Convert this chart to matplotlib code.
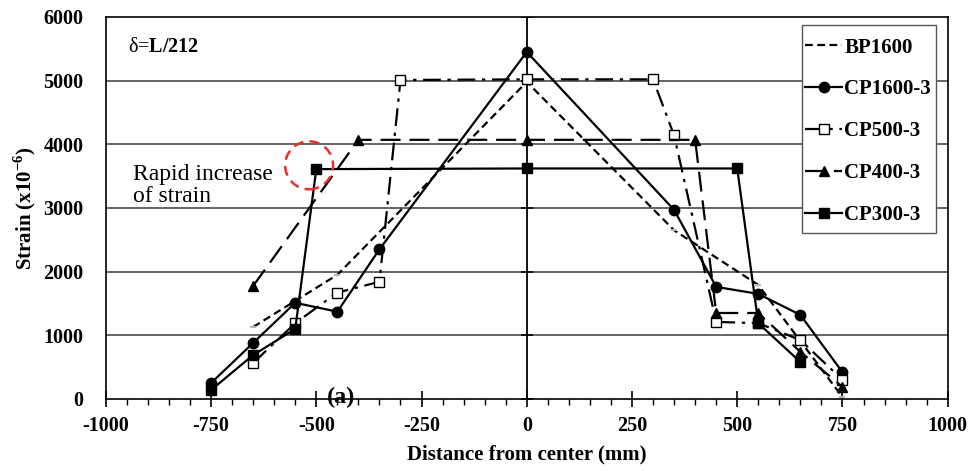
import matplotlib
matplotlib.use("Agg")
import matplotlib.pyplot as plt
from matplotlib.patches import Ellipse, Rectangle
import numpy as np

plt.rcParams['font.family'] = ['Liberation Serif', 'DejaVu Serif']
plt.rcParams['mathtext.fontset'] = 'custom'
plt.rcParams['mathtext.rm'] = 'Liberation Serif'
plt.rcParams['mathtext.bf'] = 'Liberation Serif:bold'
plt.rcParams['axes.unicode_minus'] = False

# ---- data ----
bp1600_x = [-650, -450, 0, 350, 550, 750]
bp1600_y = [1130, 1950, 4980, 2650, 1790, 30]

cp1600_x = [-750, -650, -550, -450, -350, 0, 350, 450, 550, 650, 750]
cp1600_y = [250, 880, 1510, 1370, 2350, 5450, 2970, 1760, 1650, 1320, 420]

cp500_x = [-650, -550, -450, -350, -300, 0, 300, 350, 450, 550, 650, 750]
cp500_y = [565, 1190, 1670, 1840, 5010, 5020, 5020, 4140, 1210, 1190, 925, 300]

cp400_x = [-650, -400, 0, 400, 450, 550, 650, 750]
cp400_y = [1775, 4070, 4070, 4070, 1350, 1350, 740, 190]

cp300_x = [-750, -650, -550, -500, 0, 500, 550, 650]
cp300_y = [140, 690, 1100, 3610, 3620, 3620, 1190, 580]

labels = ['BP1600', 'CP1600-3', 'CP500-3', 'CP400-3', 'CP300-3']

x_ticks = [-1000, -750, -500, -250, 0, 250, 500, 750, 1000]
y_ticks = [0, 1000, 2000, 3000, 4000, 5000, 6000]

fig = plt.figure(figsize=(9.71, 4.71), dpi=100)
ax = fig.add_axes([0.109, 0.153, 0.867, 0.811])

ax.set_xlim(-1000, 1000)
ax.set_ylim(0, 6000)

for yv in y_ticks[1:-1]:
    ax.axhline(yv, color='#3a3a3a', lw=1.1, zorder=1)
ax.axvline(0, color='black', lw=1.3, zorder=1)
ax.plot([0] * len(y_ticks), y_ticks, ls='none', marker='_', ms=8, mew=1.2, color='black', zorder=1)

lw = 1.6
ax.plot(bp1600_x, bp1600_y, color='black', lw=lw, dashes=(3.5, 2), marker='_', ms=5,
        mec='#b5b5b5', mew=1.5, label=labels[0], zorder=3)
ax.plot(cp1600_x, cp1600_y, color='black', lw=lw, ls='-', marker='o', ms=7.5,
        label=labels[1], zorder=4)
ax.plot(cp500_x, cp500_y, color='black', lw=lw, dashes=(8, 3, 1.5, 3), marker='s', ms=7,
        mfc='white', mew=1.0, label=labels[2], zorder=4)
ax.plot(cp400_x, cp400_y, color='black', lw=lw, dashes=(9, 4), marker='^', ms=7.5,
        label=labels[3], zorder=4)
ax.plot(cp300_x, cp300_y, color='black', lw=lw, ls='-', marker='s', ms=7.5,
        label=labels[4], zorder=4)

# red circle annotation
circ = Ellipse((-517, 3670), width=114, height=754, fill=False, edgecolor='#e8302a',
               lw=1.8, ls=(0, (4, 2.5)), zorder=5)
ax.add_patch(circ)

ax.text(-935, 3350, 'Rapid increase\nof strain', fontsize=17, ha='left', va='center',
        linespacing=1.1)
ax.text(-948, 5520, r'δ=$\mathbf{L/212}$', fontsize=14.5, ha='left', va='center')
ax.text(-440, 30, '(a)', fontsize=17.5, fontweight='bold', ha='center', va='center', zorder=6)

ax.set_xticks(x_ticks)
ax.set_yticks(y_ticks)
ax.set_xticks(np.arange(-1000, 1001, 50), minor=True)
ax.tick_params(axis='x', which='major', direction='inout', length=11, width=1.2, pad=7,
               labelsize=14.5)
ax.tick_params(axis='x', which='minor', direction='out', length=4, width=1.0)
ax.tick_params(axis='y', which='major', length=0, pad=16, labelsize=14.5)
for lab in ax.get_xticklabels() + ax.get_yticklabels():
    lab.set_fontweight('bold')

for s in ax.spines.values():
    s.set_linewidth(1.2)
    s.set_color('black')

ax.set_xlabel('Distance from center (mm)', fontsize=15, fontweight='bold', labelpad=6)
ax.set_ylabel(r'Strain (x10$^{\mathbf{-6}}$)', fontsize=15, fontweight='bold', labelpad=4)

# legend frame drawn manually
frame = Rectangle((0.8266, 0.4346), 0.9857 - 0.8266, 0.979 - 0.4346, transform=ax.transAxes,
                  facecolor='white', edgecolor='#555555', lw=1.0, zorder=6)
ax.add_patch(frame)
leg = ax.legend(loc='upper left', bbox_to_anchor=(0.831, 0.946), frameon=False,
                prop={'weight': 'bold', 'size': 15}, handlelength=1.75, handletextpad=0.12,
                labelspacing=1.05, borderpad=0.0, borderaxespad=0.0)
leg.set_zorder(7)
try:
    leg.legend_handles[0].set_marker('None')
except Exception:
    pass

fig.savefig('out.png', dpi=100)
